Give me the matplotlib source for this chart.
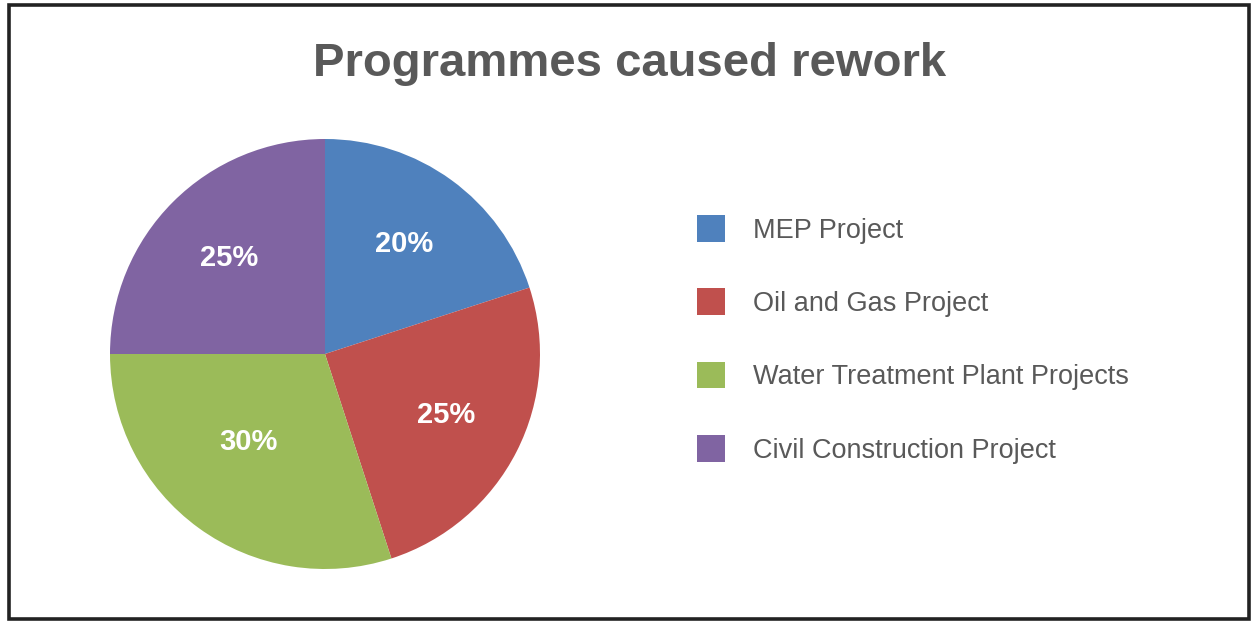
import matplotlib.pyplot as plt
import numpy as np
from matplotlib.patches import Rectangle, Patch

plt.rcParams['font.family'] = ['Liberation Sans', 'DejaVu Sans']

# chart data
categories = ['MEP Project', 'Oil and Gas Project', 'Water Treatment Plant Projects', 'Civil Construction Project']
values = [20, 25, 30, 25]
colors = ['#4F81BD', '#C0504D', '#9BBB59', '#8064A2']
title = 'Programmes caused rework'

W, H = 1251, 621
fig = plt.figure(figsize=(W / 100, H / 100), dpi=100)
fig.patch.set_facecolor('white')

# outer frame
fig.patches.append(Rectangle((8.5 / W, 2.5 / H), (1248.5 - 8.5) / W, (616.5 - 2.5) / H,
                             transform=fig.transFigure, fill=False,
                             edgecolor='#222222', linewidth=2.6))

# pie axes: centre (325, 354), radius 215 px
cx, cy, r = 325, 354, 215
ax = fig.add_axes([(cx - r) / W, (H - cy - r) / H, 2 * r / W, 2 * r / H])
wedges, texts, autotexts = ax.pie(values, colors=colors, startangle=90, counterclock=False,
                                  autopct='%d%%', pctdistance=0.63,
                                  wedgeprops=dict(linewidth=0),
                                  textprops=dict(color='white', fontsize=21, fontweight='bold'))
ax.set_xlim(-1, 1)
ax.set_ylim(-1, 1)
ax.set_aspect('equal')

# green label sits a bit closer to the centre in the original
w = wedges[2]
mid = np.deg2rad((w.theta1 + w.theta2) / 2 - 5)
autotexts[2].set_position((0.54 * np.cos(mid), 0.54 * np.sin(mid)))

fig.text(630 / W, 1 - 64 / H, title, ha='center', va='center',
         fontsize=34, fontweight='bold', color='#595959')

handles = [Patch(facecolor=c, edgecolor='none') for c in colors]
leg = fig.legend(handles, categories, loc='upper left',
                 bbox_to_anchor=(697 / W, 1 - 215 / H), frameon=False,
                 fontsize=19.5, handlelength=1.04, handleheight=1.15,
                 handletextpad=1.04, labelspacing=1.65, borderpad=0, borderaxespad=0)
for t in leg.get_texts():
    t.set_color('#595959')

fig.savefig('out.png', dpi=100, facecolor='white')
